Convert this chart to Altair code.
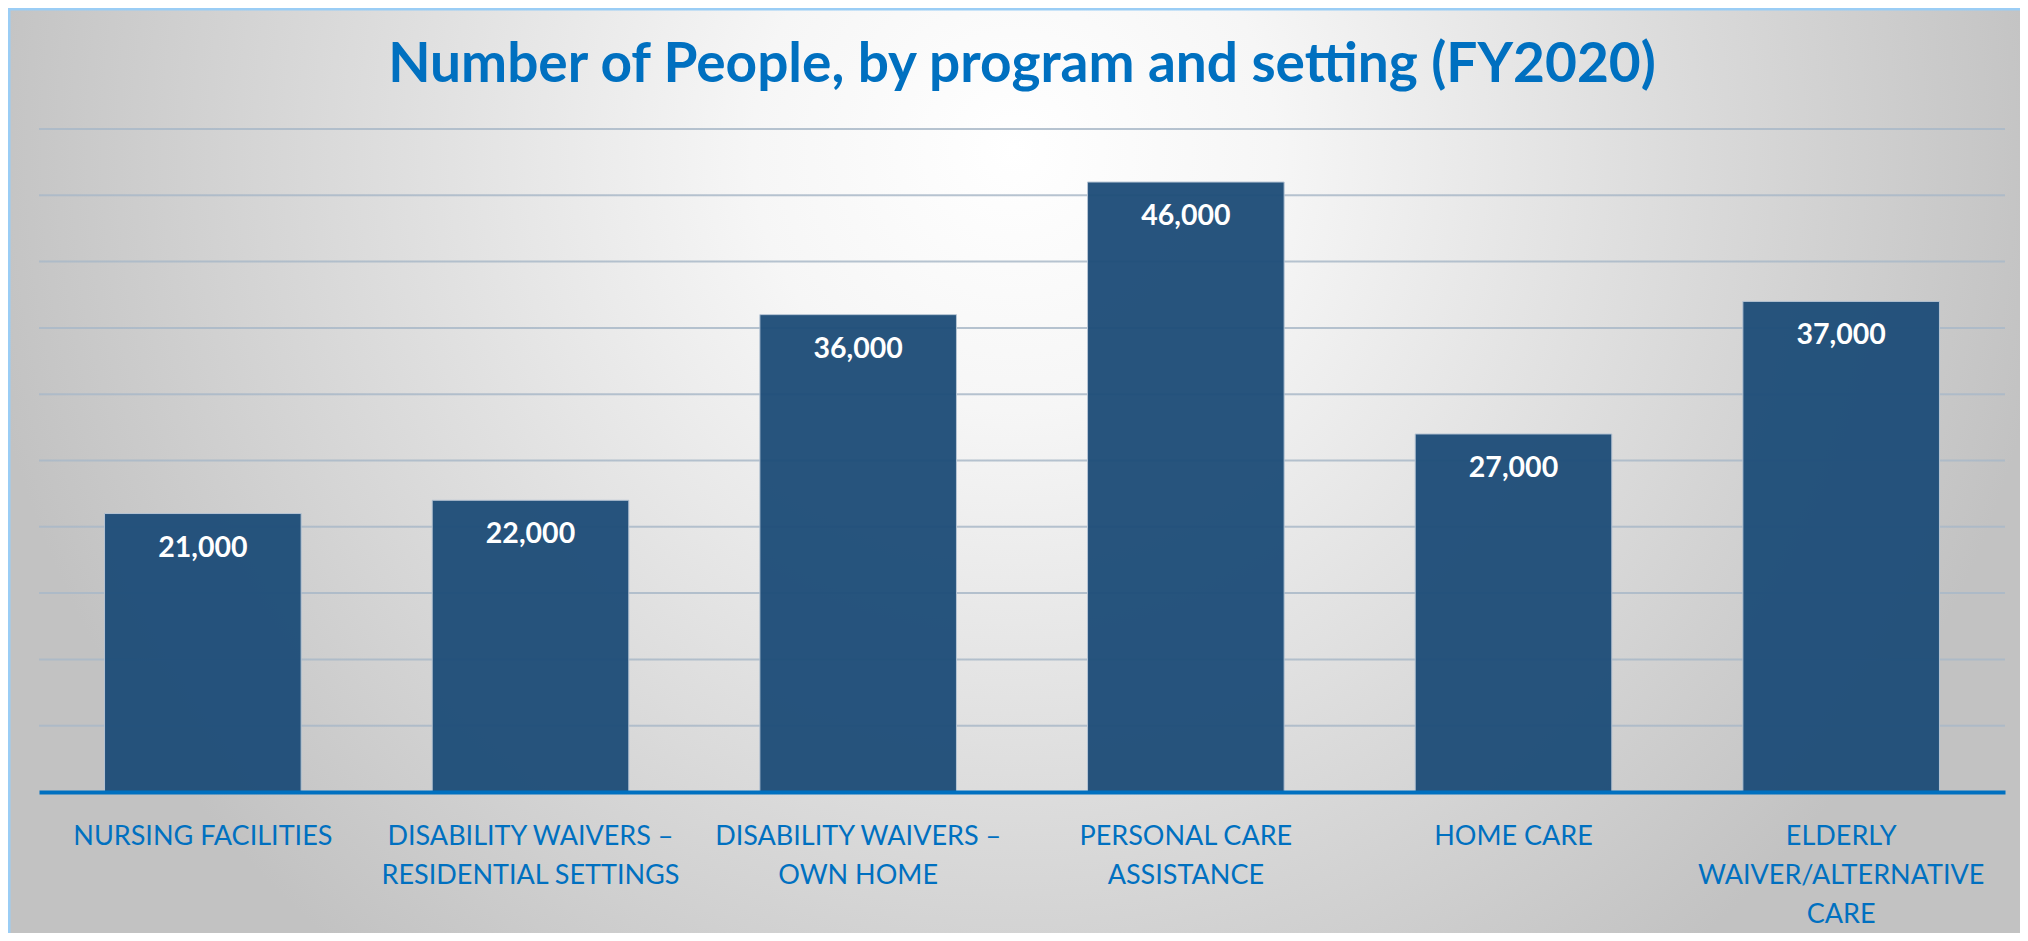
import altair as alt
import pandas as pd

# ---- data ----
categories = [
    "NURSING FACILITIES",
    "DISABILITY WAIVERS –|RESIDENTIAL SETTINGS",
    "DISABILITY WAIVERS –|OWN HOME",
    "PERSONAL CARE|ASSISTANCE",
    "HOME CARE",
    "ELDERLY|WAIVER/ALTERNATIVE|CARE",
]
people = [21000, 22000, 36000, 46000, 27000, 37000]
grid_values = [5000, 10000, 15000, 20000, 25000, 30000, 35000, 40000, 45000, 50000]
title_text = "Number of People, by program and setting (FY2020)"

df = pd.DataFrame({"program": categories, "people": people})
grid_df = pd.DataFrame({"v": grid_values})

# ---- layout ----
W, H = 1966, 663
PAD_L, PAD_T, PAD_R, PAD_B = 31, 121, 15, 141
TOTAL_W = PAD_L + W + PAD_R
BLUE = "#0070C0"

bg_fill = {
    "gradient": "radial",
    "x1": 0.5, "y1": 0.07, "r1": 0,
    "x2": 0.5, "y2": 0.07, "r2": 0.52,
    "stops": [
        {"offset": 0, "color": "#ffffff"},
        {"offset": 0.25, "color": "#f6f6f6"},
        {"offset": 1, "color": "#c2c2c2"},
    ],
}

one = pd.DataFrame({"a": [0]})

bg = alt.Chart(one).mark_rect(fill=bg_fill).encode(
    x=alt.value(-PAD_L), x2=alt.value(-PAD_L + TOTAL_W),
    y=alt.value(-PAD_T), y2=alt.value(-PAD_T + TOTAL_W),
)

yscale = alt.Scale(domain=[0, 50000], nice=False)

grid = alt.Chart(grid_df).mark_rule(color="#A9B8C8", strokeWidth=2, opacity=0.85).encode(
    y=alt.Y("v:Q", scale=yscale, axis=None),
    x=alt.value(0), x2=alt.value(W),
)

base = alt.Chart(df).encode(
    x=alt.X(
        "program:N",
        sort=categories,
        title=None,
        scale=alt.Scale(paddingInner=0.4, paddingOuter=0.2),
        axis=alt.Axis(
            labelExpr="split(datum.label, '|')",
            labelAngle=0,
            labelFont="Lato",
            labelFontSize=27,
            labelColor=BLUE,
            labelLineHeight=39,
            labelPadding=31,
            labelLimit=0,
            labelOverlap=False,
            ticks=False,
            domainColor=BLUE,
            domainWidth=4,
            grid=False,
            zindex=1,
        ),
    ),
    y=alt.Y("people:Q", scale=yscale, axis=None),
)

bars = base.mark_bar(color="#1F4E79", opacity=0.96, stroke="#B5C4D4", strokeWidth=1)

labels = base.mark_text(
    font="Lato", fontSize=28.5, fontWeight="bold", color="white",
    baseline="alphabetic", dy=43,
).encode(text=alt.Text("people:Q", format=","))

title = alt.Chart(one).mark_text(
    font="Lato", fontSize=55, fontWeight="bold", color=BLUE,
    align="center", baseline="alphabetic",
).encode(x=alt.value(W / 2), y=alt.value(-47), text=alt.value(title_text))

border_left = alt.Chart(one).mark_rule(color="#9ACDF5", strokeWidth=3).encode(
    x=alt.value(-PAD_L + 1), y=alt.value(-PAD_T), y2=alt.value(H + PAD_B)
)
border_top = alt.Chart(one).mark_rule(color="#9ACDF5", strokeWidth=3).encode(
    y=alt.value(-PAD_T + 1), x=alt.value(-PAD_L), x2=alt.value(W + PAD_R)
)

chart = alt.layer(bg, grid, bars, labels, title, border_left, border_top).properties(
    width=W,
    height=H,
    padding={"left": PAD_L, "top": PAD_T, "right": PAD_R, "bottom": PAD_B},
    autosize=alt.AutoSizeParams(type="none"),
    background="#d0d0d0",
).configure_view(stroke=None)

chart.save("out.html", embed_options={"renderer": "svg", "actions": False})
